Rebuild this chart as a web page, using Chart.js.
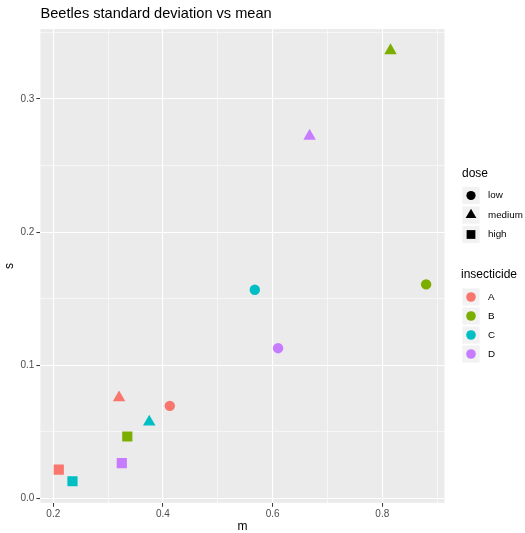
<!DOCTYPE html>
<html>
<head>
<meta charset="utf-8">
<script src="https://cdn.jsdelivr.net/npm/chart.js@4.4.1/dist/chart.umd.min.js"></script>
<style>
  html, body { margin: 0; padding: 0; background: #ffffff; }
  #wrap { position: relative; width: 525px; height: 533px; }
</style>
</head>
<body>
<div id="wrap"><canvas id="c" width="525" height="533"></canvas></div>
<script>
// ---- data ----
const insecticides = ['A', 'B', 'C', 'D'];
const doses = ['low', 'medium', 'high'];
// mean (m) per insecticide, order: low, medium, high
const meanA = [0.4125, 0.320, 0.210];
const meanB = [0.880, 0.815, 0.335];
const meanC = [0.5675, 0.375, 0.235];
const meanD = [0.610, 0.6675, 0.325];
// standard deviation (s) per insecticide, order: low, medium, high
const sdA = [0.0695, 0.0757, 0.0216];
const sdB = [0.1607, 0.3363, 0.0465];
const sdC = [0.1567, 0.0574, 0.0129];
const sdD = [0.1128, 0.2721, 0.0265];
const xTicks = [0.2, 0.4, 0.6, 0.8];
const yTicks = [0.0, 0.1, 0.2, 0.3];
const xMinor = [0.3, 0.5, 0.7, 0.9];
const yMinor = [0.05, 0.15, 0.25, 0.35];

const colors = ['#F8766D', '#7CAE00', '#00BFC4', '#C77CFF'];
const shapes = ['circle', 'triangle', 'rect'];
const radii = [5.2, 7.2, 7.2];
const means = [meanA, meanB, meanC, meanD];
const sds = [sdA, sdB, sdC, sdD];

const datasets = insecticides.map((name, i) => ({
  label: name,
  data: doses.map((d, j) => ({ x: means[i][j], y: sds[i][j] })),
  backgroundColor: colors[i],
  borderWidth: 0,
  pointStyle: shapes,
  pointRadius: radii,
  pointHoverRadius: radii
}));

const FONT = "'Liberation Sans', Arial, sans-serif";

function isMajor(v, list) { return list.some(t => Math.abs(t - v) < 1e-9); }

const bgPlugin = {
  id: 'panelBg',
  beforeDraw(chart) {
    const { ctx, chartArea: a } = chart;
    ctx.save();
    ctx.fillStyle = '#EBEBEB';
    ctx.fillRect(a.left, a.top, a.right - a.left, a.bottom - a.top);
    ctx.restore();
  }
};

const textPlugin = {
  id: 'ggText',
  afterDraw(chart) {
    const { ctx, chartArea: a } = chart;
    ctx.save();
    // title
    ctx.fillStyle = '#000000';
    ctx.font = '14.6px ' + FONT;
    ctx.textAlign = 'left';
    ctx.textBaseline = 'middle';
    ctx.fillText('Beetles standard deviation vs mean', 40.5, 14);
    // axis titles
    ctx.font = '12px ' + FONT;
    ctx.textAlign = 'center';
    ctx.fillText('m', (a.left + a.right) / 2, 527);
    ctx.save();
    ctx.translate(10, (a.top + a.bottom) / 2);
    ctx.rotate(-Math.PI / 2);
    ctx.fillText('s', 0, 0);
    ctx.restore();

    // legends
    const keyX = 471, labX = 488;
    ctx.textAlign = 'left';
    ctx.font = '12px ' + FONT;
    ctx.fillText('dose', 462, 174);
    const doseY = [195.5, 215, 234.5];
    doses.forEach((d, j) => {
      ctx.fillStyle = '#F2F2F2';
      ctx.fillRect(keyX - 8.6, doseY[j] - 8.6, 17.2, 17.2);
      Chart.helpers.drawPoint(ctx, {
        pointStyle: shapes[j], radius: j === 0 ? 4.6 : 6.2, borderWidth: 0, rotation: 0
      }, keyX, doseY[j]);
      ctx.fillStyle = '#000000';
      ctx.fill();
      ctx.font = '9.8px ' + FONT;
      ctx.fillText(d, labX, doseY[j]);
    });
    ctx.font = '12px ' + FONT;
    ctx.fillStyle = '#000000';
    ctx.fillText('insecticide', 461, 275);
    const insY = [297, 316, 335, 354];
    insecticides.forEach((n, i) => {
      ctx.fillStyle = '#F2F2F2';
      ctx.fillRect(keyX - 8.6, insY[i] - 8.6, 17.2, 17.2);
      ctx.beginPath();
      ctx.fillStyle = colors[i];
      ctx.arc(keyX, insY[i], 4.8, 0, Math.PI * 2);
      ctx.fill();
      ctx.fillStyle = '#000000';
      ctx.font = '9.8px ' + FONT;
      ctx.fillText(n, labX, insY[i]);
    });
    ctx.restore();
  }
};

function gridOpts(major) {
  return {
    color: '#FFFFFF',
    lineWidth: (c) => (c.tick && isMajor(c.tick.value, major)) ? 1.1 : 0.55,
    drawTicks: true,
    tickLength: 4,
    tickWidth: 1,
    tickColor: (c) => (c.tick && isMajor(c.tick.value, major)) ? '#333333' : 'rgba(0,0,0,0)'
  };
}

new Chart(document.getElementById('c'), {
  type: 'scatter',
  data: { datasets },
  plugins: [bgPlugin, textPlugin],
  options: {
    responsive: false,
    animation: false,
    events: [],
    layout: { padding: { top: 29, right: 80.5, left: 0, bottom: 0 } },
    plugins: { legend: { display: false }, title: { display: false }, tooltip: { enabled: false } },
    scales: {
      x: {
        type: 'linear',
        min: 0.1765, max: 0.9135,
        afterBuildTicks: (s) => { s.ticks = xTicks.concat(xMinor).sort((a, b) => a - b).map(v => ({ value: v })); },
        afterFit: (s) => { s.height = 30.2; },
        border: { display: false },
        grid: gridOpts(xTicks),
        ticks: {
          autoSkip: false, maxRotation: 0, padding: 1,
          color: '#4D4D4D', font: { family: FONT, size: 10 },
          callback: (v) => isMajor(v, xTicks) ? v.toFixed(1) : ''
        }
      },
      y: {
        type: 'linear',
        min: -0.0033, max: 0.3525,
        afterBuildTicks: (s) => { s.ticks = yTicks.concat(yMinor).sort((a, b) => a - b).map(v => ({ value: v })); },
        afterFit: (s) => { s.width = 40.4; },
        border: { display: false },
        grid: gridOpts(yTicks),
        ticks: {
          autoSkip: false, padding: 2,
          color: '#4D4D4D', font: { family: FONT, size: 10 },
          callback: (v) => isMajor(v, yTicks) ? v.toFixed(1) : ''
        }
      }
    }
  }
});
</script>
</body>
</html>
